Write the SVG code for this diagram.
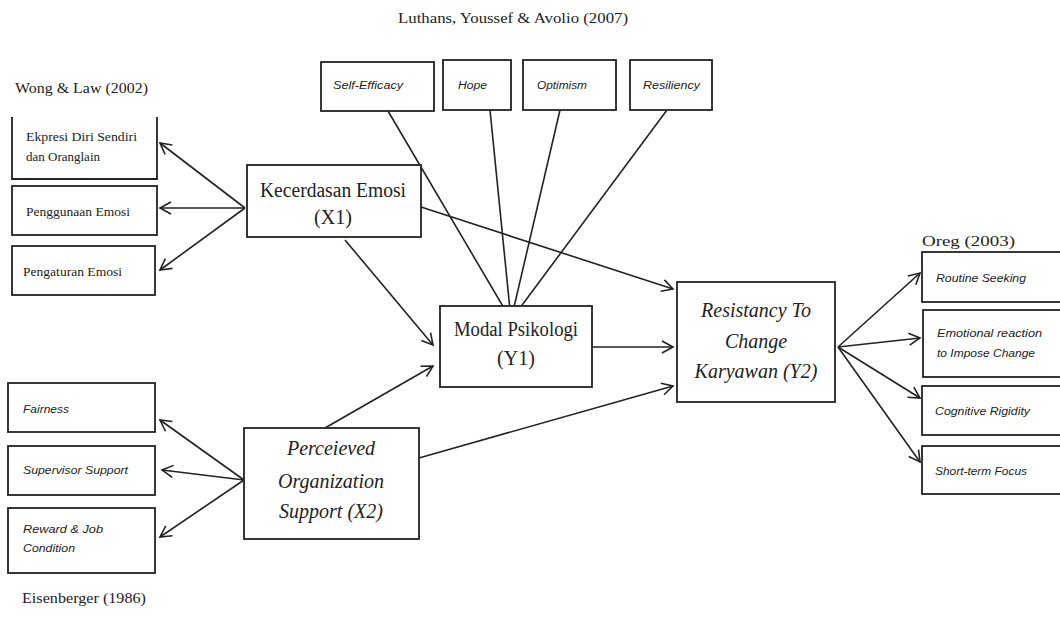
<svg xmlns="http://www.w3.org/2000/svg" width="1060" height="618" viewBox="0 0 1060 618">
<style>
.box{fill:#fff;stroke:#222;stroke-width:1.8}
.ln{fill:none;stroke:#222;stroke-width:1.6}
.arr{fill:none;stroke:#222;stroke-width:1.6;marker-end:url(#ah)}
.hd{font-family:"Liberation Serif",serif;font-size:15px;fill:#222}
.big{font-family:"Liberation Serif",serif;font-size:20px;fill:#222;text-anchor:middle}
.bigi{font-family:"Liberation Serif",serif;font-size:20px;font-style:italic;fill:#222;text-anchor:middle}
.sm{font-family:"Liberation Serif",serif;font-size:12px;fill:#222}
.smi{font-family:"Liberation Sans",sans-serif;font-size:10px;font-style:italic;fill:#222}
</style>
<defs>
<marker id="ah" markerWidth="14" markerHeight="14" refX="12" refY="7" orient="auto" markerUnits="userSpaceOnUse">
<path d="M1,1 L12,7 L1,13" fill="none" stroke="#222" stroke-width="1.6"/>
</marker>
</defs>
<rect width="1060" height="618" fill="#fff"/>

<g id="headings">
<text class="hd" x="15" y="93" textLength="133" lengthAdjust="spacingAndGlyphs">Wong &amp; Law (2002)</text>
<text class="hd" x="398" y="23" textLength="230" lengthAdjust="spacingAndGlyphs">Luthans, Youssef &amp; Avolio (2007)</text>
<text class="hd" x="922" y="246" textLength="93" lengthAdjust="spacingAndGlyphs">Oreg (2003)</text>
<text class="hd" x="22" y="603" textLength="124" lengthAdjust="spacingAndGlyphs">Eisenberger (1986)</text>
</g>

<g id="connectors">
<line class="arr" x1="245" y1="208" x2="160" y2="143"/>
<line class="arr" x1="245" y1="208" x2="160" y2="208"/>
<line class="arr" x1="245" y1="208" x2="160" y2="270"/>
<line class="arr" x1="244" y1="480" x2="160" y2="420"/>
<line class="arr" x1="244" y1="480" x2="162" y2="470"/>
<line class="arr" x1="244" y1="480" x2="160" y2="537"/>
<line class="ln" x1="388" y1="111" x2="511" y2="320"/>
<line class="ln" x1="490" y1="110" x2="511" y2="320"/>
<line class="ln" x1="560" y1="110" x2="511" y2="320"/>
<line class="ln" x1="667" y1="110" x2="511" y2="320"/>
<line class="arr" x1="345" y1="240" x2="433" y2="345"/>
<line class="arr" x1="325" y1="428" x2="433" y2="366"/>
<line class="arr" x1="592" y1="347" x2="673" y2="347"/>
<line class="arr" x1="421" y1="207" x2="673" y2="289"/>
<line class="arr" x1="419" y1="458" x2="673" y2="386"/>
<line class="arr" x1="838" y1="347" x2="920" y2="273"/>
<line class="arr" x1="838" y1="347" x2="920" y2="338"/>
<line class="arr" x1="838" y1="347" x2="920" y2="398"/>
<line class="arr" x1="838" y1="347" x2="920" y2="462"/>
</g>

<g id="ekspresi">
<path class="box" d="M12,117 L12,179 L157,179 L157,117"/>
<text class="sm" x="26" y="141" textLength="111" lengthAdjust="spacingAndGlyphs">Ekpresi Diri Sendiri</text>
<text class="sm" x="26" y="161" textLength="74" lengthAdjust="spacingAndGlyphs">dan Oranglain</text>
</g>
<g id="penggunaan">
<rect class="box" x="12" y="186" width="145" height="49"/>
<text class="sm" x="26" y="216" textLength="104" lengthAdjust="spacingAndGlyphs">Penggunaan Emosi</text>
</g>
<g id="pengaturan">
<rect class="box" x="12" y="246" width="143" height="49"/>
<text class="sm" x="23" y="276" textLength="99" lengthAdjust="spacingAndGlyphs">Pengaturan Emosi</text>
</g>

<g id="x1">
<rect class="box" x="247" y="165" width="174" height="72"/>
<text class="big" x="333" y="197" textLength="146" lengthAdjust="spacingAndGlyphs">Kecerdasan Emosi</text>
<text class="big" x="333" y="224">(X1)</text>
</g>

<g id="self-efficacy">
<rect class="box" x="321" y="62" width="113" height="49"/>
<text class="smi" x="333" y="89" textLength="70" lengthAdjust="spacingAndGlyphs">Self-Efficacy</text>
</g>
<g id="hope">
<rect class="box" x="443" y="60" width="68" height="50"/>
<text class="smi" x="458" y="89" textLength="29" lengthAdjust="spacingAndGlyphs">Hope</text>
</g>
<g id="optimism">
<rect class="box" x="523" y="60" width="93" height="50"/>
<text class="smi" x="537" y="89" textLength="50" lengthAdjust="spacingAndGlyphs">Optimism</text>
</g>
<g id="resiliency">
<rect class="box" x="630" y="60" width="82" height="50"/>
<text class="smi" x="643" y="89" textLength="57" lengthAdjust="spacingAndGlyphs">Resiliency</text>
</g>

<g id="y1">
<rect class="box" x="440" y="306" width="152" height="81"/>
<text class="big" x="516" y="336" font-size="18" textLength="124" lengthAdjust="spacingAndGlyphs">Modal Psikologi</text>
<text class="big" x="516" y="365" font-size="18">(Y1)</text>
</g>

<g id="y2">
<rect class="box" x="677" y="282" width="158" height="120"/>
<text class="bigi" x="756" y="317">Resistancy To</text>
<text class="bigi" x="756" y="348">Change</text>
<text class="bigi" x="756" y="378">Karyawan (Y2)</text>
</g>

<g id="x2">
<rect class="box" x="244" y="428" width="175" height="111"/>
<text class="bigi" x="331" y="455">Perceieved</text>
<text class="bigi" x="331" y="488">Organization</text>
<text class="bigi" x="331" y="518">Support (X2)</text>
</g>

<g id="fairness">
<rect class="box" x="8" y="383" width="147" height="49"/>
<text class="smi" x="23" y="413" textLength="46" lengthAdjust="spacingAndGlyphs">Fairness</text>
</g>
<g id="supervisor">
<rect class="box" x="8" y="446" width="147" height="49"/>
<text class="smi" x="23" y="474" textLength="105" lengthAdjust="spacingAndGlyphs">Supervisor Support</text>
</g>
<g id="reward">
<rect class="box" x="8" y="508" width="147" height="65"/>
<text class="smi" x="23" y="533" textLength="80" lengthAdjust="spacingAndGlyphs">Reward &amp; Job</text>
<text class="smi" x="23" y="552" textLength="52" lengthAdjust="spacingAndGlyphs">Condition</text>
</g>

<g id="routine">
<rect class="box" x="922" y="252" width="140" height="50"/>
<text class="smi" x="936" y="282" textLength="90" lengthAdjust="spacingAndGlyphs">Routine Seeking</text>
</g>
<g id="emotional">
<rect class="box" x="923" y="310" width="139" height="67"/>
<text class="smi" x="937" y="337" textLength="105" lengthAdjust="spacingAndGlyphs">Emotional reaction</text>
<text class="smi" x="937" y="357" textLength="98" lengthAdjust="spacingAndGlyphs">to Impose Change</text>
</g>
<g id="cognitive">
<rect class="box" x="922" y="386" width="140" height="49"/>
<text class="smi" x="935" y="415" textLength="95" lengthAdjust="spacingAndGlyphs">Cognitive Rigidity</text>
</g>
<g id="shortterm">
<rect class="box" x="922" y="446" width="140" height="48"/>
<text class="smi" x="935" y="475" textLength="92" lengthAdjust="spacingAndGlyphs">Short-term Focus</text>
</g>
</svg>
